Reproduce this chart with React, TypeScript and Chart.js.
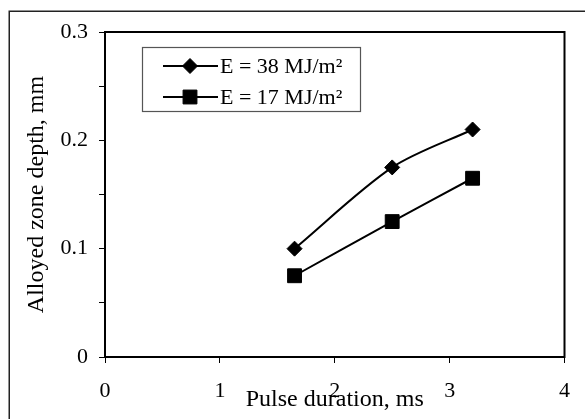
import React, { useEffect, useRef } from 'react';
import { Chart, registerables } from 'chart.js';

Chart.register(...registerables);

// ---- data ----
const pulseDuration38 = [1.65, 2.5, 3.2];
const depth38 = [0.1, 0.175, 0.21];
const pulseDuration17 = [1.65, 2.5, 3.2];
const depth17 = [0.075, 0.125, 0.165];
const seriesLabels = ['E = 38 MJ/m²', 'E = 17 MJ/m²'];
const xTickValues = [0, 1, 2, 3, 4];
const yTickLabels = ['0', '0.1', '0.2', '0.3'];
const xTitle = 'Pulse duration, ms';
const yTitle = 'Alloyed zone depth, mm';

const FONT = '"Liberation Serif", "Times New Roman", Times, serif';

const framePlugin = {
  id: 'frame',
  beforeDraw(chart: any) {
    const ctx = chart.ctx;
    ctx.save();
    ctx.fillStyle = '#ffffff';
    ctx.fillRect(0, 0, chart.width, chart.height);
    ctx.strokeStyle = '#222222';
    ctx.lineWidth = 1.5;
    ctx.strokeRect(9.25, 11.25, chart.width + 20, chart.height + 20);
    ctx.restore();
  },
  afterDraw(chart: any) {
    const ctx = chart.ctx;
    const { left, top, right, bottom } = chart.chartArea;
    ctx.save();
    ctx.strokeStyle = '#000000';
    ctx.lineWidth = 2;
    ctx.strokeRect(left, top, right - left, bottom - top);

    // legend box
    const bx = 142.5, by = 47.5, bw = 218, bh = 64;
    ctx.lineWidth = 1.2;
    ctx.strokeStyle = '#555555';
    ctx.strokeRect(bx, by, bw, bh);
    const rows = [66, 97];
    chart.data.datasets.forEach((ds: any, i: number) => {
      const y = rows[i];
      ctx.strokeStyle = '#000';
      ctx.lineWidth = 2;
      ctx.beginPath();
      ctx.moveTo(163, y);
      ctx.lineTo(218, y);
      ctx.stroke();
      const cx = 190;
      ctx.fillStyle = '#000';
      ctx.beginPath();
      if (ds.pointStyle === 'rectRot') {
        const r = ds.pointRadius;
        ctx.moveTo(cx - r, y);
        ctx.lineTo(cx, y - r);
        ctx.lineTo(cx + r, y);
        ctx.lineTo(cx, y + r);
        ctx.closePath();
      } else {
        const s = ds.pointRadius * Math.SQRT1_2;
        ctx.rect(cx - s, y - s, 2 * s, 2 * s);
      }
      ctx.fill();
      ctx.lineWidth = 1;
      ctx.stroke();
      ctx.fillStyle = '#000';
      ctx.font = `22px ${FONT}`;
      ctx.textBaseline = 'middle';
      ctx.textAlign = 'left';
      ctx.fillText(ds.label, 220, y + 1);
    });
    ctx.restore();
  },
};

export default function App() {
  const canvasRef = useRef<HTMLCanvasElement | null>(null);

  useEffect(() => {
    if (!canvasRef.current) return;
    const chart = new Chart(canvasRef.current, {
      type: 'line',
      data: {
        datasets: [
          {
            label: seriesLabels[0],
            data: pulseDuration38.map((x, i) => ({ x, y: depth38[i] })),
            borderColor: '#000',
            backgroundColor: '#000',
            borderWidth: 2,
            pointStyle: 'rectRot',
            pointRadius: 7.5,
            pointBorderWidth: 1,
            pointBackgroundColor: '#000',
            pointBorderColor: '#000',
            tension: 0.3,
          },
          {
            label: seriesLabels[1],
            data: pulseDuration17.map((x, i) => ({ x, y: depth17[i] })),
            borderColor: '#000',
            backgroundColor: '#000',
            borderWidth: 2,
            pointStyle: 'rect',
            pointRadius: 9.8,
            pointBorderWidth: 1,
            pointBackgroundColor: '#000',
            pointBorderColor: '#000',
            tension: 0.3,
          },
        ] as any,
      },
      options: {
        animation: false,
        responsive: false,
        layout: { padding: { top: 32, right: 8, left: 0, bottom: 0 } },
        plugins: {
          legend: { display: false },
          tooltip: { enabled: false },
        },
        scales: {
          x: {
            type: 'linear',
            min: 0,
            max: 4,
            ticks: {
              stepSize: 1,
              color: '#000',
              maxRotation: 0,
              padding: 15,
              font: { family: FONT, size: 22 },
              callback: (v: any) => (xTickValues.includes(Number(v)) ? String(v) : ''),
            },
            grid: { drawOnChartArea: false, drawTicks: true, tickLength: 6, color: '#000', lineWidth: 1 },
            border: { display: false },
            title: {
              display: true,
              text: xTitle,
              color: '#000',
              font: { family: FONT, size: 24 },
              padding: { top: 0, bottom: 5 },
            },
            afterFit: (s: any) => {
              s.height = 62;
            },
          },
          y: {
            type: 'linear',
            min: 0,
            max: 0.3,
            ticks: {
              stepSize: 0.05,
              color: '#000',
              padding: 11,
              font: { family: FONT, size: 22 },
              callback: (v: any) => {
                const lab = yTickLabels.find((l) => Math.abs(Number(l) - Number(v)) < 1e-9);
                return lab !== undefined ? lab : '';
              },
            },
            grid: { drawOnChartArea: false, drawTicks: true, tickLength: 6, color: '#000', lineWidth: 1 },
            border: { display: false },
            title: {
              display: true,
              text: yTitle,
              color: '#000',
              font: { family: FONT, size: 24 },
              padding: { top: 22, bottom: 0 },
            },
            afterFit: (s: any) => {
              s.width = 105;
            },
          },
        },
      } as any,
      plugins: [framePlugin],
    });
    return () => chart.destroy();
  }, []);

  return (
    <div style={{ position: 'absolute', left: 0, top: 0, width: 585, height: 419 }}>
      <canvas ref={canvasRef} width={585} height={419} style={{ display: 'block' }} />
    </div>
  );
}
